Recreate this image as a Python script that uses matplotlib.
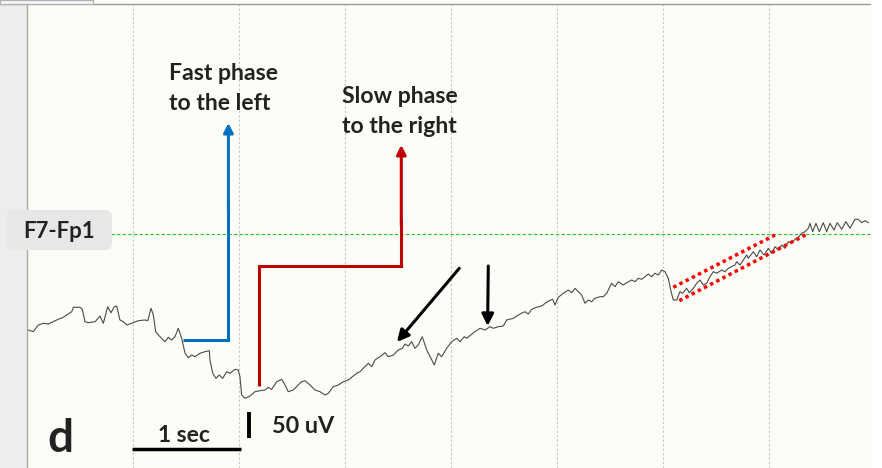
import matplotlib
matplotlib.use("Agg")
import matplotlib.pyplot as plt
from matplotlib.patches import Rectangle, FancyBboxPatch

# ---------------- data: EEG trace (time in s, amplitude in uV) ----------------
time_s = [0.012, 0.059, 0.107, 0.154, 0.201, 0.248, 0.295, 0.342, 0.390, 0.422,
          0.437, 0.500, 0.522, 0.547, 0.578, 0.642, 0.689, 0.720, 0.761, 0.792,
          0.824, 0.846, 0.877, 0.908, 0.941, 0.988, 1.050, 1.113, 1.139, 1.170,
          1.192, 1.214, 1.239, 1.302, 1.333, 1.365, 1.396, 1.427, 1.459, 1.491,
          1.522, 1.554, 1.585, 1.632, 1.679, 1.720, 1.726, 1.752, 1.783, 1.814,
          1.846, 1.884, 1.915, 1.962, 1.993, 2.009, 2.025, 2.057, 2.104, 2.151,
          2.198, 2.245, 2.276, 2.308, 2.356, 2.403, 2.434, 2.465, 2.512, 2.559,
          2.591, 2.623, 2.670, 2.717, 2.764, 2.811, 2.842, 2.889, 2.937, 2.984,
          3.031, 3.078, 3.110, 3.142, 3.173, 3.220, 3.252, 3.283, 3.330, 3.377,
          3.408, 3.456, 3.503, 3.541, 3.566, 3.597, 3.629, 3.660, 3.691, 3.729,
          3.771, 3.811, 3.842, 3.880, 3.912, 3.959, 4.007, 4.054, 4.085, 4.125,
          4.148, 4.226, 4.274, 4.321, 4.368, 4.399, 4.446, 4.493, 4.525, 4.588,
          4.651, 4.698, 4.729, 4.761, 4.808, 4.855, 4.896, 4.927, 4.959, 4.981,
          5.012, 5.059, 5.107, 5.139, 5.170, 5.201, 5.233, 5.264, 5.295, 5.327,
          5.358, 5.406, 5.437, 5.469, 5.493, 5.516, 5.547, 5.578, 5.625, 5.658,
          5.705, 5.736, 5.767, 5.799, 5.830, 5.861, 5.893, 5.925, 5.956, 5.988,
          6.019, 6.050, 6.073, 6.097, 6.129, 6.160, 6.186, 6.223, 6.248, 6.280,
          6.318, 6.349, 6.380, 6.412, 6.443, 6.475, 6.507, 6.554, 6.585, 6.616,
          6.648, 6.679, 6.695, 6.726, 6.758, 6.790, 6.805, 6.852, 6.884, 6.915,
          6.953, 6.994, 7.025, 7.057, 7.088, 7.120, 7.151, 7.182, 7.214, 7.245,
          7.276, 7.308, 7.340, 7.371, 7.387, 7.412, 7.443, 7.475, 7.512, 7.544,
          7.575, 7.613, 7.644, 7.686, 7.726, 7.764, 7.811, 7.842, 7.874, 7.906,
          7.937]
amp_uv = [-185.6, -188.8, -176.0, -172.7, -174.0, -169.6, -165.0, -161.2, -154.8, -150.4,
          -141.9, -141.9, -145.8, -169.6, -171.5, -169.6, -158.7, -172.7, -140.8, -152.3,
          -140.8, -139.4, -166.3, -169.6, -176.0, -172.7, -167.7, -166.3, -167.7, -143.8,
          -156.7, -188.8, -195.2, -208.1, -199.6, -204.8, -198.5, -182.3, -201.5, -230.4,
          -238.8, -233.7, -236.9, -230.4, -227.3, -225.4, -243.3, -268.8, -278.5, -272.1,
          -278.5, -265.8, -268.8, -261.2, -262.5, -275.4, -310.6, -316.9, -312.5, -304.2,
          -302.3, -301.0, -295.8, -299.6, -285.0, -280.4, -291.3, -304.2, -301.0, -291.3,
          -285.0, -283.1, -291.3, -301.0, -304.2, -310.6, -307.3, -294.6, -291.3, -285.0,
          -281.7, -274.0, -268.8, -265.8, -259.2, -249.6, -256.2, -243.3, -236.9, -229.2,
          -236.9, -233.7, -224.0, -220.8, -212.5, -216.3, -208.1, -220.8, -214.4, -198.5,
          -224.0, -240.0, -252.9, -230.4, -236.9, -220.8, -208.1, -201.5, -208.1, -198.5,
          -201.5, -188.8, -182.3, -185.6, -179.2, -182.3, -179.2, -177.9, -166.3, -163.1,
          -154.8, -150.4, -154.8, -145.8, -141.9, -139.4, -133.1, -129.2, -126.5, -137.5,
          -122.7, -115.0, -108.7, -113.8, -105.4, -111.9, -118.3, -134.2, -127.9, -131.2,
          -124.6, -121.5, -121.5, -115.0, -104.8, -95.8, -102.3, -92.7, -99.0, -94.6,
          -89.4, -92.7, -86.2, -88.1, -83.1, -77.9, -83.1, -76.5, -79.8, -70.2,
          -73.5, -86.2, -108.7, -127.9, -127.9, -111.9, -115.0, -105.4, -113.8, -107.3,
          -95.8, -89.4, -99.0, -95.8, -83.1, -73.5, -76.5, -70.2, -73.5, -66.9,
          -63.8, -60.6, -54.2, -60.6, -51.0, -41.3, -47.7, -35.0, -44.6, -31.7,
          -41.3, -28.5, -38.1, -25.4, -31.7, -22.1, -28.5, -15.8, -18.8, -11.2,
          -7.3, 0.4, 3.5, 10.0, 19.6, 3.5, 19.6, 3.5, 20.8, 3.5,
          19.6, 6.7, 20.8, 8.1, 22.7, 10.0, 27.3, 27.3, 20.8, 24.6,
          20.8]
grid_seconds = [1, 2, 3, 4, 5, 6, 7]
channel_label = "F7-Fp1"
panel_label = "d"
time_scale_label = "1 sec"
amp_scale_label = "50 uV"
fast_label = ["Fast phase", "to the left"]
slow_label = ["Slow phase", "to the right"]

# ---------------- geometry (figure pixels) ----------------
W, H = 882, 468
PX_PER_SEC = 106.0
PX_PER_UV = 26.0 / 50.0
T0_PX = 27.0
ZERO_PX = 233.5

BG = "#fdfdf7"
fig = plt.figure(figsize=(W / 100, H / 100), dpi=100, facecolor=BG)

# main data axes (seconds, microvolts)
ax = fig.add_axes([0, 0, 1, 1])
ax.set_xlim(-T0_PX / PX_PER_SEC, (W - T0_PX) / PX_PER_SEC)
ax.set_ylim(-(H - ZERO_PX) / PX_PER_UV, ZERO_PX / PX_PER_UV)
ax.axis("off")
ax.set_facecolor(BG)

# overlay axes in pixel units for decorations
ov = fig.add_axes([0, 0, 1, 1], zorder=3)
ov.set_xlim(0, W)
ov.set_ylim(H, 0)
ov.axis("off")
ov.patch.set_alpha(0)

top_frac = 1 - 4 / H
for g in grid_seconds:
    ax.axvline(g, ymin=0, ymax=top_frac, color="#c4c4c4", lw=0.8,
               linestyle=(0, (2, 2)), zorder=1)
ax.axhline(0, xmin=0, xmax=(870) / W, color="#1ec81e", lw=0.8,
           linestyle=(0, (3, 2)), zorder=1)

ax.plot(time_s, amp_uv, color="#4a4a4a", lw=0.8, zorder=2)

# frame decorations
ov.add_patch(Rectangle((0, 0), 27, H, facecolor="#ededed", edgecolor="none", zorder=0))
ov.plot([27, 27], [4, H], color="#a8a8a8", lw=1.0, zorder=1)
ov.plot([0, 870], [3.5, 3.5], color="#9a9a9a", lw=1.0, zorder=1)
ov.add_patch(Rectangle((0, 0), 93, 3.5, facecolor="#f2f2f2", edgecolor="#b0b0b0",
                       lw=0.8, zorder=1))
ov.add_patch(Rectangle((871, 0), 11, H, facecolor="white", edgecolor="none", zorder=1))

# channel label box
ov.add_patch(FancyBboxPatch((10, 213), 99, 34, boxstyle="round,pad=3,rounding_size=7",
                            facecolor="#e7e7e7", edgecolor="none", zorder=4))
FONT = "Lato"
TXT = "#222222"
ov.text(59.5, 238.5, channel_label, ha="center", va="baseline", fontsize=16,
        fontfamily=FONT, fontweight="bold", color=TXT, zorder=5)

# blue L arrow (fast phase)
BLUE = "#0070c0"
RED = "#c00000"
LW = 2.2
ov.plot([182.7, 228.4, 228.4], [340, 340, 200], color=BLUE, lw=LW,
        solid_capstyle="butt", solid_joinstyle="miter", zorder=4)
ov.annotate("", xy=(228.4, 123), xytext=(228.4, 210),
            arrowprops=dict(arrowstyle="-|>,head_length=0.55,head_width=0.28",
                            color=BLUE, lw=LW, shrinkA=0, shrinkB=0), zorder=4)

# red L arrow (slow phase)
ov.plot([259.3, 259.3, 401.3, 401.3], [386, 265.7, 265.7, 220], color=RED, lw=LW,
        solid_capstyle="butt", solid_joinstyle="miter", zorder=4)
ov.annotate("", xy=(401.3, 145), xytext=(401.3, 225),
            arrowprops=dict(arrowstyle="-|>,head_length=0.55,head_width=0.28",
                            color=RED, lw=LW, shrinkA=0, shrinkB=0), zorder=4)

# black arrows
ov.annotate("", xy=(397, 342), xytext=(459.3, 268.3),
            arrowprops=dict(arrowstyle="-|>,head_length=0.7,head_width=0.35",
                            color="black", lw=LW, shrinkA=0, shrinkB=0), zorder=4)
ov.annotate("", xy=(487.6, 326), xytext=(488.3, 266),
            arrowprops=dict(arrowstyle="-|>,head_length=0.7,head_width=0.35",
                            color="black", lw=LW, shrinkA=0, shrinkB=0), zorder=4)

# red dotted envelope lines
ov.plot([673.3, 775], [287.3, 235], color="#ff0000", lw=2.5,
        linestyle=(0, (1, 1)), dash_capstyle="butt", zorder=4)
ov.plot([679.3, 806.7], [300.7, 234.3], color="#ff0000", lw=2.5,
        linestyle=(0, (1, 1)), dash_capstyle="butt", zorder=4)

# annotation texts (one line each, baseline-aligned)
TS = 16.6
for line, yb in zip(fast_label, [80, 110]):
    ov.text(169, yb, line, ha="left", va="baseline", fontsize=TS,
            fontfamily=FONT, fontweight="bold", color=TXT, zorder=5)
for line, yb in zip(slow_label, [103, 133]):
    ov.text(342, yb, line, ha="left", va="baseline", fontsize=TS,
            fontfamily=FONT, fontweight="bold", color=TXT, zorder=5)

# scale bars
ov.plot([132, 241], [448.5, 448.5], color="black", lw=2.5, solid_capstyle="butt", zorder=4)
ov.plot([249.3, 249.3], [411.7, 438.3], color="black", lw=2.8, solid_capstyle="butt", zorder=4)
ov.text(183.5, 441.7, time_scale_label, ha="center", va="baseline", fontsize=16.5,
        fontfamily=FONT, fontweight="bold", color=TXT, zorder=5)
ov.text(271.5, 433.3, amp_scale_label, ha="left", va="baseline", fontsize=16.8,
        fontfamily=FONT, fontweight="bold", color=TXT, zorder=5)
ov.text(60, 451.5, panel_label, ha="center", va="baseline", fontsize=33,
        fontfamily=FONT, fontweight="bold", color=TXT, zorder=5)

fig.savefig("out.png", dpi=100, facecolor=BG)
